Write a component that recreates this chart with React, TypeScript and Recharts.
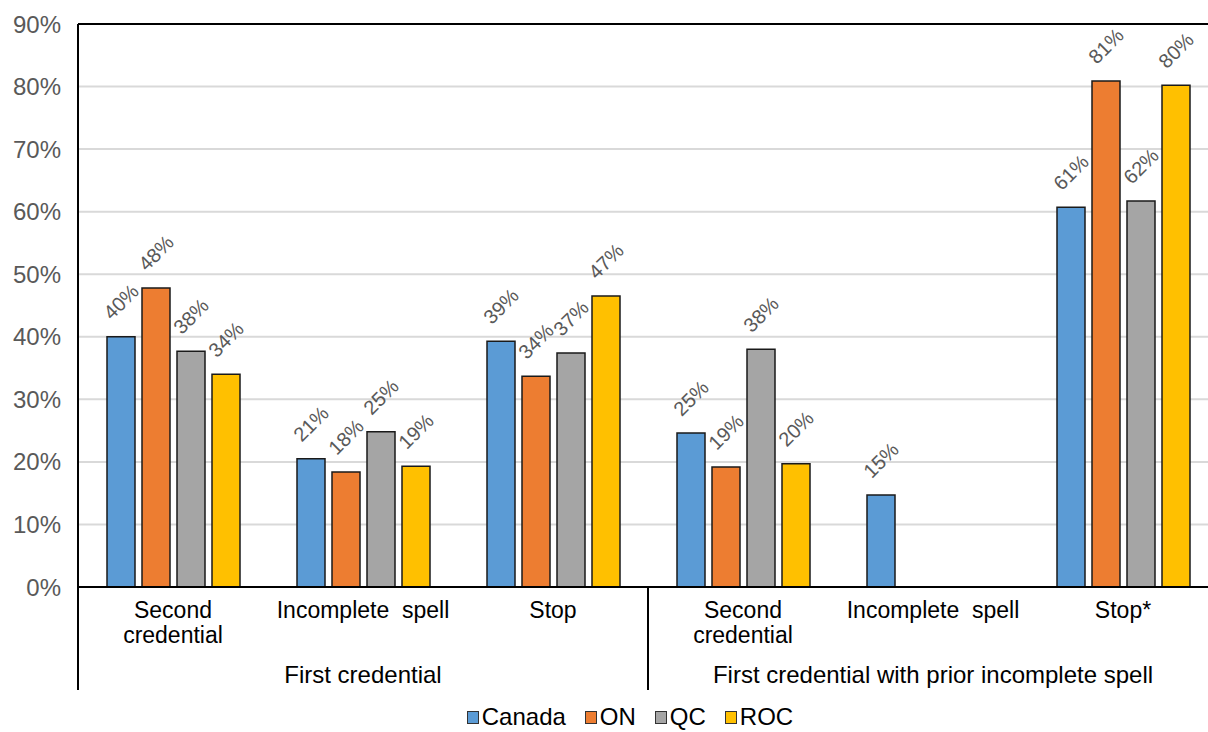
import React from 'react';
import { BarChart, Bar, XAxis, YAxis, CartesianGrid, LabelList, Legend, ReferenceLine } from 'recharts';

// Outcome categories along the x axis (each entry is the lines of its tick label)
const categoryLabels: string[][] = [
  ['Second', 'credential'],
  ['Incomplete  spell'],
  ['Stop'],
  ['Second', 'credential'],
  ['Incomplete  spell'],
  ['Stop*'],
];

// Second-level groups: label with first and last category index
const groupLabels = ['First credential', 'First credential with prior incomplete spell'];
const groupStarts = [0, 3];
const groupEnds = [2, 5];

// Shares (%) by region
const canada = [40.0, 20.5, 39.3, 24.6, 14.7, 60.7];
const ontario = [47.8, 18.4, 33.7, 19.2, null, 80.9];
const quebec = [37.7, 24.8, 37.4, 38.0, null, 61.7];
const restOfCanada = [34.0, 19.3, 46.5, 19.7, null, 80.2];

const yTicks = [0, 10, 20, 30, 40, 50, 60, 70, 80, 90];

const series = [
  { key: 'canada', name: 'Canada', color: '#5B9BD5', values: canada },
  { key: 'on', name: 'ON', color: '#ED7D31', values: ontario },
  { key: 'qc', name: 'QC', color: '#A5A5A5', values: quebec },
  { key: 'roc', name: 'ROC', color: '#FFC000', values: restOfCanada },
];

const data = categoryLabels.map((_, i) => {
  const row: Record<string, number | string | null> = { key: `c${i}` };
  series.forEach((s) => {
    row[s.key] = s.values[i];
  });
  return row;
});

const CHART_W = 1230;
const CHART_H = 732;
const MARGIN = { top: 24, right: 12, bottom: 0, left: 0 };
const Y_AXIS_W = 78;
const X_AXIS_H = 115;
const PLOT_W = CHART_W - MARGIN.left - MARGIN.right - Y_AXIS_W;
const BAND = PLOT_W / categoryLabels.length;

const FONT = '"Liberation Sans", Arial, Helvetica, sans-serif';

function CategoryTick(props: any) {
  const { x, y, index } = props;
  const lines = categoryLabels[index] || [];
  const parts: React.ReactNode[] = [];
  lines.forEach((line, li) => {
    parts.push(
      <text
        key={`l${li}`}
        x={x}
        y={y + 31 + li * 25}
        textAnchor="middle"
        fill="#000"
        fontSize={23}
        style={{ whiteSpace: 'pre' }}
      >
        {line}
      </text>
    );
  });
  groupStarts.forEach((start, gi) => {
    const end = groupEnds[gi];
    if (index === start) {
      parts.push(
        <line key={`s${gi}`} x1={x - BAND / 2} x2={x - BAND / 2} y1={y} y2={y + 103} stroke="#000" strokeWidth={2} />
      );
    }
    if ((start + end) % 2 === 0 && index === (start + end) / 2) {
      parts.push(
        <text key={`g${gi}`} x={x} y={y + 96} textAnchor="middle" fill="#000" fontSize={24}>
          {groupLabels[gi]}
        </text>
      );
    }
    if (index === end && gi === groupStarts.length - 1) {
      parts.push(
        <line key={`e${gi}`} x1={x + BAND / 2} x2={x + BAND / 2} y1={y} y2={y + 103} stroke="#000" strokeWidth={2} />
      );
    }
  });
  return <g>{parts}</g>;
}

function RotatedLabel(props: any) {
  const { x, y, width, value } = props;
  if (value === null || value === undefined) return null;
  const cx = x + width / 2;
  const cy = y - 35;
  return (
    <text
      x={cx}
      y={cy}
      transform={`rotate(-45, ${cx}, ${cy})`}
      textAnchor="middle"
      dominantBaseline="central"
      fill="#595959"
      fontSize={20}
    >
      {`${Math.round(value)}%`}
    </text>
  );
}

function LegendContent() {
  return (
    <div
      style={{
        height: 30,
        display: 'flex',
        justifyContent: 'center',
        alignItems: 'center',
        fontFamily: FONT,
        fontSize: 24,
        color: '#000',
      }}
    >
      {series.map((s, i) => (
        <div
          key={s.key}
          style={{ display: 'flex', alignItems: 'center', marginRight: i === series.length - 1 ? 0 : 19 }}
        >
          <span
            style={{
              display: 'inline-block',
              width: 10,
              height: 11,
              background: s.color,
              border: '1px solid #333',
              marginRight: 3,
            }}
          />
          <span>{s.name}</span>
        </div>
      ))}
    </div>
  );
}

export default function App() {
  return (
    <div
      style={{
        position: 'absolute',
        left: 0,
        top: 0,
        width: 1208,
        height: 732,
        overflow: 'hidden',
        background: '#fff',
        fontFamily: FONT,
      }}
    >
      <BarChart
        width={CHART_W}
        height={CHART_H}
        data={data}
        margin={MARGIN}
        barCategoryGap={29}
        barGap={7}
      >
        <CartesianGrid vertical={false} stroke="#d9d9d9" strokeWidth={2} />
        <XAxis
          dataKey="key"
          height={X_AXIS_H}
          interval={0}
          tickLine={false}
          tickSize={0}
          tickMargin={0}
          axisLine={{ stroke: '#000', strokeWidth: 2 }}
          tick={<CategoryTick />}
        />
        <YAxis
          width={Y_AXIS_W}
          domain={[0, 90]}
          ticks={yTicks}
          interval={0}
          tickFormatter={(v: number) => `${v}%`}
          tickLine={false}
          tickSize={0}
          tickMargin={17}
          axisLine={{ stroke: '#000', strokeWidth: 2 }}
          tick={{ fill: '#595959', fontSize: 24 }}
        />
        <ReferenceLine y={90} stroke="#000" strokeWidth={2} />
        {series.map((s) => (
          <Bar
            key={s.key}
            dataKey={s.key}
            name={s.name}
            fill={s.color}
            stroke="#1a1a1a"
            strokeWidth={1.5}
            isAnimationActive={false}
          >
            <LabelList dataKey={s.key} content={<RotatedLabel />} />
          </Bar>
        ))}
        <Legend
          verticalAlign="bottom"
          content={<LegendContent />}
          wrapperStyle={{ left: 0, width: 1260 }}
        />
      </BarChart>
    </div>
  );
}
